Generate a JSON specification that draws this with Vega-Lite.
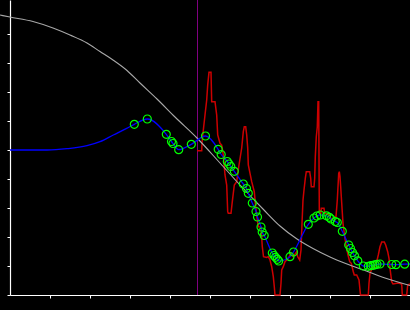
{
  "$schema": "https://vega.github.io/schema/vega-lite/v6.json",
  "width": 400,
  "height": 295,
  "autosize": {"type": "none"},
  "padding": {"left": 10, "top": 0, "right": 0, "bottom": 15},
  "background": "black",
  "config": {
    "view": {"stroke": null},
    "axis": {"labels": false, "grid": false, "title": null, "domainColor": "white", "domainWidth": 1.2, "tickColor": "white", "tickSize": 3, "tickWidth": 1}
  },
  "datasets": {
    "gray": [
      {"x": -10, "y": 280}, {"x": 0, "y": 278}, {"x": 23, "y": 273.5}, {"x": 43, "y": 267}, {"x": 60, "y": 260},
      {"x": 77, "y": 252}, {"x": 90, "y": 243.5}, {"x": 103, "y": 235}, {"x": 117, "y": 224.5}, {"x": 130, "y": 212},
      {"x": 147, "y": 196}, {"x": 165, "y": 178}, {"x": 187, "y": 157}, {"x": 210, "y": 132}, {"x": 230, "y": 110},
      {"x": 253, "y": 86}, {"x": 270, "y": 69}, {"x": 287, "y": 56}, {"x": 303, "y": 46.5}, {"x": 320, "y": 38},
      {"x": 337, "y": 31}, {"x": 355, "y": 24.5}, {"x": 375, "y": 17}, {"x": 400, "y": 9.5}
    ],
    "vline": [{"x": 187.5, "y": 0, "y2": 295}],
    "red": [
      {"x": 187, "y": 144.3}, {"x": 191.7, "y": 144.3}, {"x": 192, "y": 152}, {"x": 193, "y": 162}, {"x": 195, "y": 180},
      {"x": 196.7, "y": 195}, {"x": 197.7, "y": 210}, {"x": 199, "y": 222.7}, {"x": 201, "y": 222.7}, {"x": 201.3, "y": 210},
      {"x": 201.7, "y": 193.3}, {"x": 205, "y": 193.3}, {"x": 206.7, "y": 180}, {"x": 207.7, "y": 160}, {"x": 210, "y": 151.7},
      {"x": 211.7, "y": 150}, {"x": 213.3, "y": 140}, {"x": 215, "y": 120}, {"x": 216.7, "y": 110}, {"x": 217.7, "y": 83.3},
      {"x": 218.3, "y": 81.7}, {"x": 221, "y": 81.7}, {"x": 222.3, "y": 93.3}, {"x": 224.3, "y": 110}, {"x": 226.7, "y": 113.3},
      {"x": 229, "y": 130}, {"x": 231.7, "y": 147}, {"x": 233.3, "y": 163.3}, {"x": 234.3, "y": 168.3}, {"x": 235.7, "y": 168.3},
      {"x": 236.7, "y": 160}, {"x": 237.7, "y": 147}, {"x": 238.3, "y": 130}, {"x": 241.7, "y": 113.3}, {"x": 244.3, "y": 103.3},
      {"x": 245.5, "y": 90}, {"x": 246.5, "y": 81}, {"x": 248.3, "y": 68.3}, {"x": 251, "y": 68}, {"x": 252.3, "y": 48.3},
      {"x": 253.5, "y": 38.3}, {"x": 256.7, "y": 37.5}, {"x": 258.3, "y": 38.3}, {"x": 260, "y": 35}, {"x": 261.7, "y": 28.3},
      {"x": 263.3, "y": 18.3}, {"x": 264.3, "y": 8.3}, {"x": 265, "y": 0}, {"x": 270, "y": 0}, {"x": 271, "y": 11.7},
      {"x": 271.7, "y": 25}, {"x": 273.3, "y": 28.3}, {"x": 275, "y": 33.3}, {"x": 278.3, "y": 36.7}, {"x": 281, "y": 41.7},
      {"x": 283.3, "y": 38.3}, {"x": 286.7, "y": 43.3}, {"x": 287.7, "y": 38.3}, {"x": 289.7, "y": 35}, {"x": 291, "y": 45},
      {"x": 292, "y": 71.7}, {"x": 293, "y": 95}, {"x": 294, "y": 105}, {"x": 295.3, "y": 116.7}, {"x": 296.3, "y": 123.3},
      {"x": 299.7, "y": 123.3}, {"x": 300.7, "y": 116.7}, {"x": 301.3, "y": 108.3}, {"x": 304, "y": 108.3}, {"x": 304.7, "y": 116.7},
      {"x": 305.3, "y": 138.3}, {"x": 306.3, "y": 158.3}, {"x": 307.3, "y": 168.3}, {"x": 308, "y": 193.3}, {"x": 308.7, "y": 193.3},
      {"x": 309, "y": 138.3}, {"x": 309.3, "y": 85}, {"x": 310.7, "y": 80}, {"x": 311.3, "y": 86.7}, {"x": 314, "y": 86.7},
      {"x": 314.7, "y": 81.7}, {"x": 319.7, "y": 80}, {"x": 321.3, "y": 75}, {"x": 326, "y": 78.3}, {"x": 327.3, "y": 95},
      {"x": 328.7, "y": 121.7}, {"x": 329.3, "y": 123.3}, {"x": 330, "y": 118.3}, {"x": 330.7, "y": 108.3}, {"x": 331.3, "y": 98.3},
      {"x": 333, "y": 71.7}, {"x": 334.7, "y": 58.3}, {"x": 336.3, "y": 48.3}, {"x": 338, "y": 40}, {"x": 339.7, "y": 33.3},
      {"x": 341.3, "y": 31.7}, {"x": 343.3, "y": 23.3}, {"x": 344.3, "y": 20}, {"x": 346.7, "y": 20}, {"x": 349, "y": 15},
      {"x": 350.5, "y": 0}, {"x": 358.3, "y": 0}, {"x": 359, "y": 11.7}, {"x": 360, "y": 21.7}, {"x": 362.3, "y": 26.7},
      {"x": 365, "y": 29}, {"x": 366.7, "y": 33.3}, {"x": 368.3, "y": 40}, {"x": 370, "y": 48.3}, {"x": 371.7, "y": 53},
      {"x": 374.3, "y": 53}, {"x": 375.7, "y": 50}, {"x": 377.7, "y": 43.3}, {"x": 379, "y": 36.7}, {"x": 380, "y": 26.7},
      {"x": 381.7, "y": 13.3}, {"x": 383, "y": 11}, {"x": 388.3, "y": 12}, {"x": 391.7, "y": 11}, {"x": 392.3, "y": 0},
      {"x": 396.7, "y": 0}, {"x": 397.7, "y": 10}, {"x": 400, "y": 11}
    ],
    "blue": [
      {"x": 0, "y": 145}, {"x": 20, "y": 145}, {"x": 37, "y": 145}, {"x": 57, "y": 146.3}, {"x": 77, "y": 149.3},
      {"x": 90, "y": 153.3}, {"x": 103.3, "y": 160}, {"x": 116.7, "y": 166.7}, {"x": 124.3, "y": 170.7}, {"x": 137.3, "y": 176},
      {"x": 156.3, "y": 160.7}, {"x": 161.5, "y": 153.5}, {"x": 163, "y": 151.5}, {"x": 168.7, "y": 145.3}, {"x": 181.3, "y": 150.7},
      {"x": 195.5, "y": 159}, {"x": 208.2, "y": 145.7}, {"x": 211.2, "y": 140.5}, {"x": 217.3, "y": 133.5}, {"x": 219, "y": 131},
      {"x": 220.8, "y": 128.5}, {"x": 224.3, "y": 123.7}, {"x": 233.3, "y": 111}, {"x": 236.5, "y": 106.5}, {"x": 238.3, "y": 101.7},
      {"x": 242.3, "y": 92}, {"x": 246, "y": 83.5}, {"x": 247.5, "y": 78}, {"x": 251, "y": 68}, {"x": 252.2, "y": 63},
      {"x": 254.2, "y": 59.5}, {"x": 262.3, "y": 42}, {"x": 264, "y": 39.5}, {"x": 265.5, "y": 37.7}, {"x": 267.3, "y": 35.7},
      {"x": 268.7, "y": 34}, {"x": 280, "y": 38.3}, {"x": 283.5, "y": 43}, {"x": 298.3, "y": 70.7}, {"x": 304, "y": 77},
      {"x": 306.8, "y": 79}, {"x": 310.2, "y": 80}, {"x": 316.5, "y": 79.2}, {"x": 319.3, "y": 77.7}, {"x": 321, "y": 76},
      {"x": 325.3, "y": 73.5}, {"x": 327.3, "y": 72.5}, {"x": 332.3, "y": 63.7}, {"x": 338.7, "y": 50}, {"x": 340.5, "y": 46.5},
      {"x": 342.5, "y": 42.5}, {"x": 344.5, "y": 39.2}, {"x": 347.8, "y": 34.2}, {"x": 353.3, "y": 29}, {"x": 358.3, "y": 28.7},
      {"x": 360.8, "y": 29.3}, {"x": 363, "y": 29.7}, {"x": 365, "y": 30.2}, {"x": 367, "y": 30.7}, {"x": 370, "y": 31},
      {"x": 381.7, "y": 30.5}, {"x": 386, "y": 30.3}, {"x": 394.7, "y": 30.8}, {"x": 400, "y": 31}
    ],
    "pts": [
      {"x": 124.3, "y": 170.7}, {"x": 137.3, "y": 176}, {"x": 156.3, "y": 160.7}, {"x": 161.5, "y": 153.5}, {"x": 163, "y": 151.5},
      {"x": 168.7, "y": 145.3}, {"x": 181.3, "y": 150.7}, {"x": 195.5, "y": 159}, {"x": 208.2, "y": 145.7}, {"x": 211.2, "y": 140.5},
      {"x": 217.3, "y": 133.5}, {"x": 219, "y": 131}, {"x": 220.8, "y": 128.5}, {"x": 224.3, "y": 123.7}, {"x": 233.3, "y": 111},
      {"x": 236.5, "y": 106.5}, {"x": 238.3, "y": 101.7}, {"x": 242.3, "y": 92}, {"x": 246, "y": 83.5}, {"x": 247.5, "y": 78},
      {"x": 251, "y": 68}, {"x": 252.2, "y": 63}, {"x": 254.2, "y": 59.5}, {"x": 262.3, "y": 42}, {"x": 264, "y": 39.5},
      {"x": 265.5, "y": 37.7}, {"x": 267.3, "y": 35.7}, {"x": 268.7, "y": 34}, {"x": 280, "y": 38.3}, {"x": 283.5, "y": 43},
      {"x": 298.3, "y": 70.7}, {"x": 304, "y": 77}, {"x": 306.8, "y": 79}, {"x": 310.2, "y": 80}, {"x": 316.5, "y": 79.2},
      {"x": 319.3, "y": 77.7}, {"x": 321, "y": 76}, {"x": 325.3, "y": 73.5}, {"x": 327.3, "y": 72.5}, {"x": 332.3, "y": 63.7},
      {"x": 338.7, "y": 50}, {"x": 340.5, "y": 46.5}, {"x": 342.5, "y": 42.5}, {"x": 344.5, "y": 39.2}, {"x": 347.8, "y": 34.2},
      {"x": 353.3, "y": 29}, {"x": 358.3, "y": 28.7}, {"x": 360.8, "y": 29.3}, {"x": 363, "y": 29.7}, {"x": 365, "y": 30.2},
      {"x": 367, "y": 30.7}, {"x": 370, "y": 31}, {"x": 381.7, "y": 30.5}, {"x": 386, "y": 30.3}, {"x": 394.7, "y": 30.8}
    ]
  },
  "encoding": {
    "x": {"field": "x", "type": "quantitative", "scale": {"domain": [0, 400], "nice": false, "zero": false},
          "axis": {"values": [40, 80, 120, 160, 200, 240, 280, 320, 360, 400]}},
    "y": {"field": "y", "type": "quantitative", "scale": {"domain": [0, 295], "nice": false, "zero": false},
          "axis": {"values": [0, 29, 58, 87, 116, 145, 174, 203, 232, 261]}}
  },
  "layer": [
    {"data": {"name": "vline"}, "mark": {"type": "rule", "color": "#800080", "strokeWidth": 1}, "encoding": {"y2": {"field": "y2"}}},
    {"data": {"name": "red"}, "mark": {"type": "line", "color": "#cc0000", "strokeWidth": 1.5, "interpolate": "linear"}},
    {"data": {"name": "gray"}, "mark": {"type": "line", "color": "#a8a8a8", "strokeWidth": 1.1, "interpolate": "monotone"}},
    {"data": {"name": "blue"}, "mark": {"type": "line", "color": "#0000ff", "strokeWidth": 1.3, "interpolate": "monotone"}},
    {"data": {"name": "pts"}, "mark": {"type": "point", "shape": "circle", "filled": false, "size": 64, "strokeWidth": 1.2, "color": "#00ff00", "opacity": 1}}
  ]
}
